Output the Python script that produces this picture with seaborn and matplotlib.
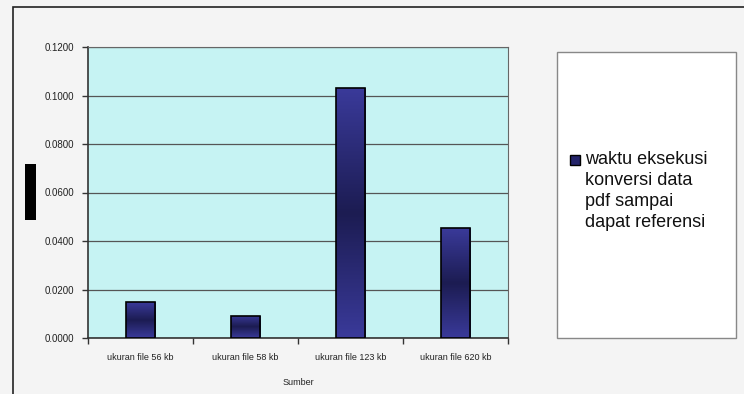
import numpy as np
import pandas as pd
import matplotlib
matplotlib.use("Agg")
import matplotlib.pyplot as plt
from matplotlib.colors import LinearSegmentedColormap
from matplotlib.patches import Rectangle
import seaborn as sns

# data
sumber = ["ukuran file 56 kb", "ukuran file 58 kb", "ukuran file 123 kb", "ukuran file 620 kb"]
waktu = [0.0147, 0.0092, 0.1030, 0.0453]
series_name = "waktu eksekusi\nkonversi data\npdf sampai\ndapat referensi"
y_ticks = [0.0, 0.02, 0.04, 0.06, 0.08, 0.10, 0.12]

sns.set_theme(style="white")
plt.rcParams["font.family"] = ["Liberation Sans", "DejaVu Sans"]

df = pd.DataFrame({"Sumber": sumber, "waktu": waktu})

fig = plt.figure(figsize=(7.44, 3.94), dpi=100)
fig.patch.set_facecolor("#f4f4f4")
ax = fig.add_axes([88 / 744, 1 - 338 / 394, 420 / 744, 291 / 394])
ax.set_facecolor("#c6f3f3")

sns.barplot(data=df, x="Sumber", y="waktu", ax=ax, width=0.28,
            color="#2e2e88", edgecolor="black", linewidth=1.2, zorder=3)

# vertical gradient inside each bar (light edges, dark middle)
cmap = LinearSegmentedColormap.from_list(
    "bar", ["#3a3a9a", "#1c1c52", "#3a3a9a"])
grad = np.linspace(0, 1, 256).reshape(-1, 1)
for bar in ax.patches:
    x0, y0 = bar.get_x(), bar.get_y()
    w, h = bar.get_width(), bar.get_height()
    im = ax.imshow(grad, cmap=cmap, aspect="auto", zorder=3.5,
                   extent=[x0, x0 + w, y0, y0 + h], origin="lower")
    im.set_clip_path(bar)
    bar.set_facecolor("none")
    bar.set_zorder(4)

ax.set_xlim(-0.5, len(sumber) - 0.5)
ax.set_ylim(0, 0.12)
ax.set_yticks(y_ticks)
ax.set_yticklabels([f"{v:.4f}" for v in y_ticks], fontsize=7, color="#222222")
ax.yaxis.grid(True, color="#555555", linewidth=0.9, zorder=1)
ax.set_axisbelow(True)

ax.set_xticks(range(len(sumber)))
ax.set_xticklabels(sumber, fontsize=6.5, color="#222222")
ax.set_xticks(np.arange(-0.5, len(sumber), 1.0), minor=True)
ax.tick_params(axis="x", which="major", length=0, pad=11)
ax.tick_params(axis="x", which="minor", length=4, width=1, color="#333333", bottom=True)
ax.tick_params(axis="y", length=4, width=1, color="#333333", left=True, pad=6)

ax.set_xlabel("Sumber", fontsize=6.5, color="#222222", labelpad=11)
ax.set_ylabel("")

for side in ["left", "bottom"]:
    ax.spines[side].set_color("#333333")
    ax.spines[side].set_linewidth(1.2)
for side in ["top", "right"]:
    ax.spines[side].set_color("#666666")
    ax.spines[side].set_linewidth(0.8)

# legend box to the right: square marker beside the first line of the label
fig.patches.append(Rectangle((557 / 744, 1 - 338 / 394), 179 / 744, 286 / 394,
                             transform=fig.transFigure, facecolor="white",
                             edgecolor="#888888", linewidth=1, zorder=0))
fig.patches.append(Rectangle((570 / 744, 1 - 165 / 394), 10 / 744, 10 / 394,
                             transform=fig.transFigure, facecolor="#24246a",
                             edgecolor="black", linewidth=1, zorder=2))
fig.text(585 / 744, 1 - 151 / 394, series_name, fontsize=13, color="#111111",
         va="top", ha="left", linespacing=1.32)

# outer chart frame and the black block left of the axis
fig.patches.append(Rectangle((13 / 744, -0.05), 1.0, 1 - 7 / 394 + 0.05,
                             transform=fig.transFigure, facecolor="none",
                             edgecolor="#222222", linewidth=1.2, zorder=0))
fig.patches.append(Rectangle((25 / 744, 1 - 220 / 394), 11 / 744, 56 / 394,
                             transform=fig.transFigure, facecolor="black",
                             edgecolor="none", zorder=1))

fig.savefig("out.png", dpi=100, facecolor=fig.get_facecolor())
